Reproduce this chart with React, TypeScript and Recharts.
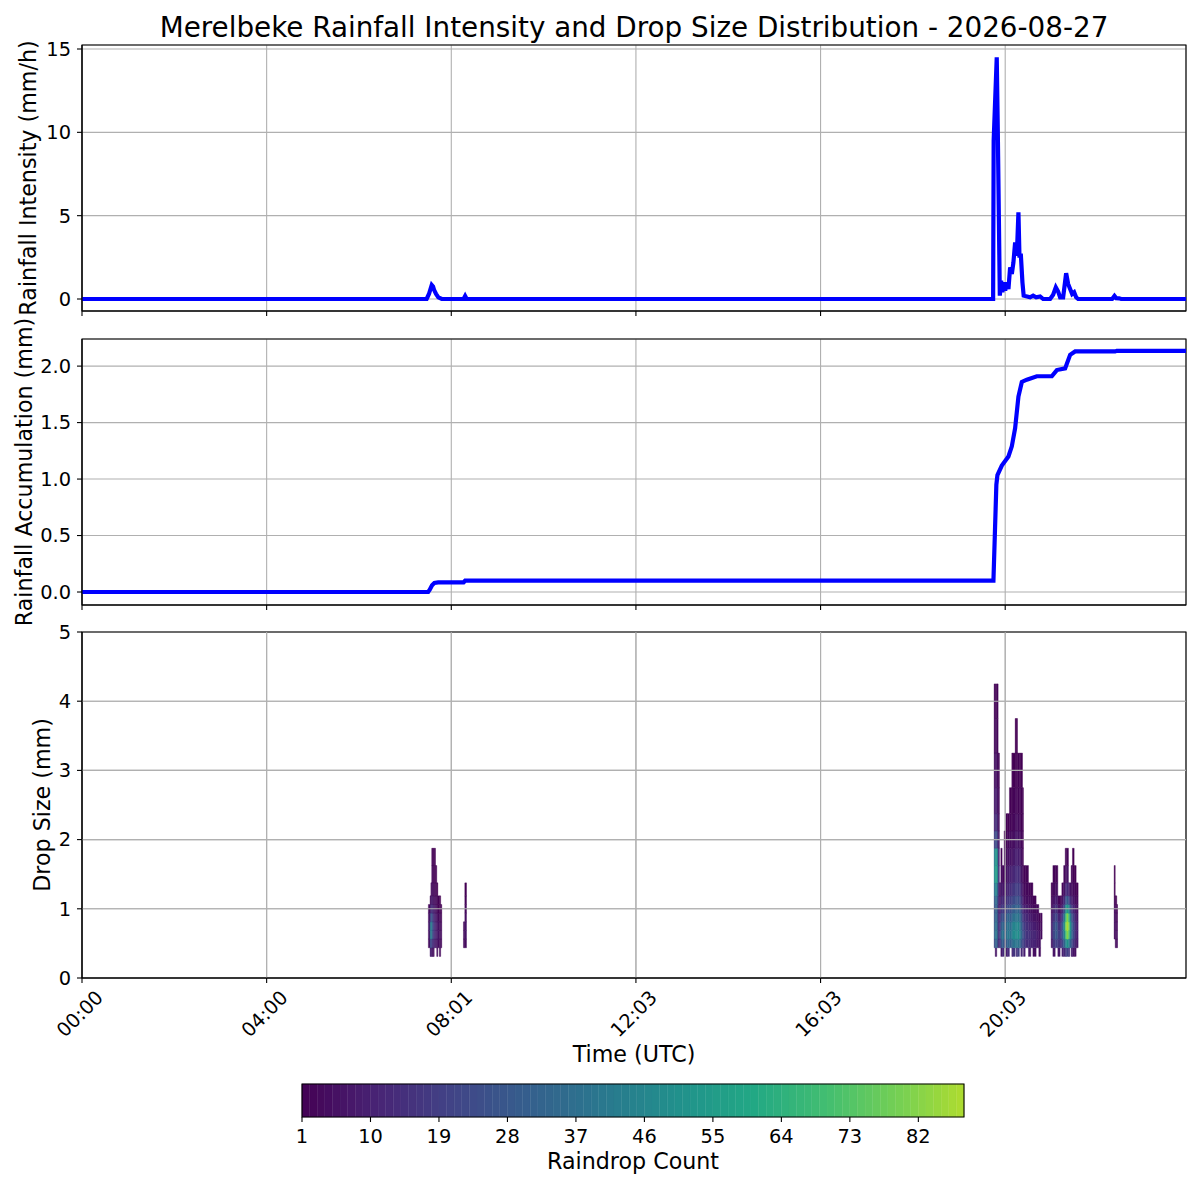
import React from "react";
import {
  LineChart,
  Line,
  ComposedChart,
  XAxis,
  YAxis,
  CartesianGrid,
  ReferenceArea,
  ReferenceLine,
} from "recharts";

const FONT = "DejaVu Sans, Verdana, sans-serif";
const GRID = "#b0b0b0";
const LINE_BLUE = "#0000ff";

// time axis in minutes since 00:00 UTC
const timeTicks = [0, 240, 480, 720, 960, 1200];
const timeTickLabels = ["00:00", "04:00", "08:01", "12:03", "16:03", "20:03"];
const timeEnd = 1435;

// [minute, mm/h]
const intensity: [number, number][] = [
  [0, 0], [448, 0], [451, 0.3], [454.6, 0.84], [456.3, 0.75], [457.6, 0.55],
  [460.2, 0.3], [463.2, 0.1], [467.6, 0], [496, 0], [498, 0.18], [500, 0],
  [1184.3, 0], [1185, 9.5], [1189, 14.5], [1190.4, 10], [1193, 0.2], [1194.7, 1.1],
  [1196.4, 0.4], [1197.7, 1.0], [1200, 0.5], [1202.1, 1.0], [1204.2, 0.6],
  [1206.4, 1.9], [1208.6, 1.5], [1210.7, 2.2], [1212.9, 3.4], [1215.1, 2.6],
  [1217.2, 5.2], [1218.5, 2.6], [1220.4, 2.6], [1222.4, 1.0], [1224, 0.2],
  [1228.5, 0.15], [1232.4, 0.1], [1236.3, 0.2], [1240.2, 0.1], [1245.4, 0.15],
  [1249.3, 0], [1258.4, 0], [1262.3, 0.25], [1265.8, 0.7], [1268.8, 0.45],
  [1271.4, 0.1], [1275.3, 0.1], [1279.2, 1.55], [1281.8, 0.9], [1284.4, 0.6],
  [1287, 0.3], [1289.6, 0.4], [1292.2, 0.1], [1294.8, 0], [1339, 0],
  [1342, 0.18], [1344.2, 0.05], [1348, 0.04], [1350.7, 0], [1435, 0],
];

// [minute, mm]
const accumulation: [number, number][] = [
  [0, 0], [450, 0], [452, 0.02], [455, 0.06], [458, 0.08], [463, 0.085],
  [496, 0.085], [498, 0.1], [1184.7, 0.1], [1186.5, 0.5], [1188.5, 0.95],
  [1189.9, 1.035], [1195.6, 1.12], [1204.2, 1.2], [1208.6, 1.29], [1212.9, 1.45],
  [1217.2, 1.73], [1221.6, 1.86], [1228.1, 1.88], [1241.1, 1.91], [1260.6, 1.91],
  [1267.1, 1.965], [1277.9, 1.98], [1284.4, 2.1], [1290.9, 2.13], [1342.9, 2.13],
  [1345, 2.135], [1435, 2.135],
];

// drop size class edges (mm)
const sizeEdges = [
  0.312, 0.437, 0.562, 0.687, 0.812, 0.937, 1.062, 1.187, 1.375, 1.625, 1.875,
  2.125, 2.375, 2.75, 3.25, 3.75, 4.25,
];

// [start minute, end minute, first size class, counts per class upward]
const dsdColumns: [number, number, number, number[]][] = [
  [450.2, 452.4, 1, [3, 5, 6, 5, 3]],
  [452.4, 453.5, 0, [8, 22, 36, 34, 18, 9, 4]],
  [453.5, 454.6, 0, [10, 26, 46, 44, 26, 13, 6, 3]],
  [454.6, 455.6, 0, [7, 18, 36, 38, 28, 15, 9, 5, 3, 2]],
  [455.6, 456.7, 0, [5, 14, 24, 26, 19, 12, 7, 4, 2, 1]],
  [456.7, 457.8, 0, [4, 12, 18, 19, 14, 9, 5, 3, 2, 1]],
  [457.8, 459.5, 1, [9, 13, 13, 10, 7, 4, 2, 1, 1]],
  [459.5, 461.1, 1, [7, 10, 10, 8, 5, 3, 2, 1]],
  [461.1, 462.5, 0, [4, 7, 8, 7, 5, 3, 2, 1]],
  [462.5, 464.5, 1, [5, 7, 6, 4, 2, 1]],
  [464.5, 466.2, 0, [3, 4, 5, 4, 3, 1, 1]],
  [466.2, 467.6, 1, [3, 4, 3, 2, 1]],
  [495.8, 497.6, 1, [3, 4, 3]],
  [497.6, 499.8, 1, [4, 6, 6, 5, 3, 2, 1]],

  [1185.6, 1187.0, 1, [24, 30, 28, 26, 24, 26, 34, 44, 40, 18, 11, 7, 5, 3, 2]],
  [1187.0, 1189.0, 0, [6, 34, 42, 40, 36, 34, 38, 48, 58, 54, 26, 15, 10, 6, 4, 2]],
  [1189.0, 1190.8, 1, [28, 34, 32, 30, 28, 30, 38, 52, 48, 20, 12, 8, 5, 3, 2]],
  [1190.8, 1192.5, 1, [12, 14, 13, 12, 11, 12, 13, 15, 11, 7, 5, 3, 2]],
  [1192.5, 1194.3, 1, [14, 17, 15, 12, 9, 6, 4]],
  [1194.3, 1196.0, 0, [7, 26, 34, 30, 24, 18, 13, 9, 5, 2]],
  [1196.0, 1198.6, 0, [12, 32, 40, 34, 26, 18, 12, 7, 3]],
  [1198.6, 1200.8, 1, [22, 30, 28, 22, 16, 12, 8, 5, 3, 1]],
  [1200.8, 1203.0, 0, [9, 28, 36, 34, 28, 21, 15, 10, 6, 4, 2, 1]],
  [1203.0, 1205.5, 0, [13, 34, 42, 40, 34, 25, 18, 12, 8, 5, 3, 1]],
  [1205.5, 1208.6, 1, [30, 38, 36, 30, 25, 19, 14, 10, 6, 4, 2, 1]],
  [1208.6, 1210.0, 0, [11, 36, 44, 42, 35, 28, 21, 15, 10, 6, 4, 2, 1, 1]],
  [1210.0, 1213.0, 0, [16, 38, 48, 46, 38, 30, 23, 17, 12, 8, 5, 3, 2, 1]],
  [1213.0, 1214.2, 1, [42, 50, 46, 40, 33, 26, 20, 14, 10, 7, 5, 3, 2, 1]],
  [1214.2, 1216.0, 0, [14, 38, 46, 44, 38, 31, 24, 18, 13, 9, 6, 4, 2, 1, 1]],
  [1216.0, 1218.5, 0, [19, 40, 50, 48, 40, 33, 26, 19, 14, 9, 6, 4, 2, 1]],
  [1218.5, 1220.3, 1, [35, 42, 40, 34, 28, 22, 17, 12, 8, 5, 3, 2, 1]],
  [1220.3, 1222.5, 0, [12, 27, 35, 32, 27, 21, 16, 11, 7, 5, 3, 1, 1, 1]],
  [1222.5, 1223.7, 1, [19, 24, 22, 17, 13, 10, 6, 4, 2, 1, 1, 1]],
  [1223.7, 1226.0, 0, [9, 19, 22, 19, 15, 10, 6, 4, 2]],
  [1226.0, 1230.2, 1, [14, 16, 15, 12, 9, 5, 3, 2]],
  [1230.2, 1233.3, 0, [7, 14, 15, 12, 9, 6, 4, 2]],
  [1233.3, 1236.0, 1, [11, 12, 11, 8, 5, 3, 2]],
  [1236.0, 1240.2, 0, [5, 11, 12, 9, 6, 4, 2]],
  [1240.2, 1243.7, 1, [8, 9, 7, 5, 3]],
  [1243.7, 1246.0, 0, [4, 6, 6, 4, 2]],
  [1246.4, 1248.0, 2, [4, 4, 3]],

  [1259.7, 1262.0, 1, [7, 10, 10, 8, 5, 3, 2]],
  [1262.0, 1265.0, 0, [6, 17, 22, 22, 17, 12, 7, 4, 2]],
  [1265.0, 1268.4, 1, [20, 28, 28, 22, 15, 9, 5, 2]],
  [1268.4, 1271.4, 0, [7, 17, 20, 17, 12, 7, 3]],
  [1271.4, 1273.6, 1, [14, 17, 14, 10, 5, 2]],
  [1273.6, 1276.0, 0, [10, 22, 30, 30, 22, 13, 7, 3]],
  [1276.0, 1278.0, 0, [12, 32, 44, 48, 38, 24, 13, 6, 3]],
  [1278.0, 1280.0, 0, [16, 44, 68, 78, 66, 44, 24, 12, 5, 2]],
  [1280.0, 1282.2, 0, [20, 52, 82, 88, 82, 56, 30, 14, 6, 2]],
  [1282.2, 1284.0, 0, [16, 44, 72, 80, 68, 44, 22, 10]],
  [1284.0, 1285.7, 1, [32, 50, 54, 44, 28, 15, 6]],
  [1285.7, 1287.4, 0, [9, 26, 36, 36, 28, 18, 10, 5, 2]],
  [1287.4, 1289.6, 0, [7, 18, 26, 26, 21, 13, 8, 4, 2, 1]],
  [1289.6, 1292.2, 0, [5, 12, 16, 16, 13, 9, 5, 3, 1]],
  [1292.2, 1294.8, 1, [7, 9, 9, 7, 5, 3, 1]],

  [1341.6, 1343.0, 2, [3, 4, 4, 3, 2, 1, 1]],
  [1343.0, 1345.0, 1, [4, 5, 5, 4, 3, 1]],
  [1345.0, 1346.0, 1, [3, 4, 3, 2, 1]],
];

const countTicks = [1, 10, 19, 28, 37, 46, 55, 64, 73, 82];
const countMin = 1;
const countMax = 88;
const colorNormMax = 100;

const VIRIDIS = [
  "#440154", "#482475", "#414487", "#355f8d", "#2a788e", "#21918c",
  "#22a884", "#44bf70", "#7ad151", "#bddf26", "#fde725",
];

function viridis(t: number) {
  const p = Math.max(0, Math.min(1, t)) * (VIRIDIS.length - 1);
  const i = Math.min(Math.floor(p), VIRIDIS.length - 2);
  const f = p - i;
  const a = VIRIDIS[i];
  const b = VIRIDIS[i + 1];
  const ch = (s: string, k: number) => parseInt(s.slice(1 + k * 2, 3 + k * 2), 16);
  const mix = [0, 1, 2].map((k) => Math.round(ch(a, k) + (ch(b, k) - ch(a, k)) * f));
  return `rgb(${mix.join(",")})`;
}

const countColor = (c: number) => viridis((c - countMin) / (colorNormMax - countMin));

const intensityData = intensity.map(([t, v]) => ({ t, v }));
const accumulationData = accumulation.map(([t, v]) => ({ t, v }));

const dsdCells = dsdColumns.flatMap(([t0, t1, lo, counts]) =>
  counts
    .map((count, k) => ({ t0, t1, d0: sizeEdges[lo + k], d1: sizeEdges[lo + k + 1], count }))
    .filter((c) => c.count > 0)
);

const bands = Array.from({ length: countMax - countMin }, (_, i) => countMin + i);
const bandData = bands.map((c) => ({ c, y: 0.5 }));

const TICK_FS = 19.4;
const LABEL_FS = 22.2;
const tickStyle = { fill: "#000", fontSize: TICK_FS, fontFamily: FONT };

// y-axis titles, placed beside each panel (they are longer than the panels)
const sideLabels = [
  { text: "Rainfall Intensity (mm/h)", x: 28, y: 178 },
  { text: "Rainfall Accumulation (mm)", x: 24, y: 472 },
  { text: "Drop Size (mm)", x: 42, y: 805 },
];

function BottomLabel(props: any) {
  const { viewBox, text, dy } = props;
  const cx = viewBox.x + viewBox.width / 2;
  return (
    <text
      x={cx}
      y={viewBox.y + dy}
      textAnchor="middle"
      dominantBaseline="central"
      fontSize={LABEL_FS}
      fontFamily={FONT}
      fill="#000"
    >
      {text}
    </text>
  );
}

function TimeTick(props: any) {
  const { x, y, payload } = props;
  const label = timeTickLabels[timeTicks.indexOf(payload.value)];
  const cx = x - 2;
  const cy = y + 29;
  return (
    <text
      x={cx}
      y={cy}
      transform={`rotate(-45, ${cx}, ${cy})`}
      textAnchor="middle"
      dominantBaseline="central"
      fontSize={TICK_FS}
      fontFamily={FONT}
      fill="#000"
    >
      {label}
    </text>
  );
}

const frameProps = (y1: number, y2: number) => ({
  x1: 0,
  x2: timeEnd,
  y1,
  y2,
  fill: "none",
  fillOpacity: 0,
  stroke: "#000",
  strokeWidth: 1.1,
  ifOverflow: "visible" as const,
});

const timeAxisProps = {
  type: "number" as const,
  dataKey: "t",
  domain: [0, timeEnd],
  ticks: timeTicks,
  interval: 0 as const,
  tickSize: 5,
  allowDataOverflow: true,
  stroke: "#000",
  strokeWidth: 1.1,
};

const valueAxisProps = {
  type: "number" as const,
  allowDataOverflow: true,
  width: 82,
  tickSize: 5,
  tickMargin: 6,
  tick: tickStyle,
  stroke: "#000",
  strokeWidth: 1.1,
};

export default function App() {
  const p1 = [-0.72, 15.24];
  const p2 = [-0.115, 2.24];
  return (
    <div style={{ position: "absolute", left: 0, top: 0, width: 1200, height: 1200, background: "#fff" }}>
      <div style={{ position: "absolute", left: 0, top: 0 }}>
        <LineChart width={1200} height={325} data={intensityData} margin={{ top: 45, right: 14, bottom: 4, left: 0 }}>
          <CartesianGrid stroke={GRID} strokeWidth={1.1} />
          <XAxis {...timeAxisProps} height={10} tickFormatter={() => ""} tick={tickStyle} />
          <YAxis {...valueAxisProps} domain={p1} ticks={[0, 5, 10, 15]} />
          <Line
            dataKey="v"
            type="linear"
            stroke={LINE_BLUE}
            strokeWidth={4.2}
            dot={false}
            isAnimationActive={false}
          />
          <ReferenceArea {...frameProps(p1[0], p1[1])} />
        </LineChart>
      </div>

      <div style={{ position: "absolute", left: 0, top: 325 }}>
        <LineChart width={1200} height={290} data={accumulationData} margin={{ top: 14, right: 14, bottom: 0, left: 0 }}>
          <CartesianGrid stroke={GRID} strokeWidth={1.1} />
          <XAxis {...timeAxisProps} height={10} tickFormatter={() => ""} tick={tickStyle} />
          <YAxis
            {...valueAxisProps}
            domain={p2}
            ticks={[0, 0.5, 1, 1.5, 2]}
            tickFormatter={(v: number) => v.toFixed(1)}
          />
          <Line
            dataKey="v"
            type="linear"
            stroke={LINE_BLUE}
            strokeWidth={4.2}
            dot={false}
            isAnimationActive={false}
          />
          <ReferenceArea {...frameProps(p2[0], p2[1])} />
        </LineChart>
      </div>

      <div style={{ position: "absolute", left: 0, top: 615 }}>
        <ComposedChart width={1200} height={460} margin={{ top: 17, right: 14, bottom: 0, left: 0 }}>
          <CartesianGrid stroke={GRID} strokeWidth={1.1} />
          <XAxis
            {...timeAxisProps}
            height={97}
            tick={<TimeTick />}
            label={<BottomLabel text="Time (UTC)" dy={76} />}
          />
          <YAxis {...valueAxisProps} domain={[0, 5]} ticks={[0, 1, 2, 3, 4, 5]} />
          {dsdCells.map((c, i) => (
            <ReferenceArea
              key={`cell-${i}`}
              x1={c.t0}
              x2={c.t1}
              y1={c.d0}
              y2={c.d1}
              fill={countColor(c.count)}
              fillOpacity={1}
              stroke={countColor(c.count)}
              strokeWidth={0.4}
              ifOverflow="visible"
            />
          ))}
          {timeTicks.slice(1).map((t) => (
            <ReferenceLine key={`gx-${t}`} x={t} stroke={GRID} strokeWidth={1.1} />
          ))}
          {[1, 2, 3, 4].map((v) => (
            <ReferenceLine key={`gy-${v}`} y={v} stroke={GRID} strokeWidth={1.1} />
          ))}
          <ReferenceArea {...frameProps(0, 5)} />
        </ComposedChart>
      </div>

      <div style={{ position: "absolute", left: 0, top: 1075 }}>
        <ComposedChart width={1200} height={125} data={bandData} margin={{ top: 9, right: 236, bottom: 0, left: 302 }}>
          <XAxis
            type="number"
            dataKey="c"
            domain={[countMin, countMax]}
            ticks={countTicks}
            interval={0}
            allowDataOverflow
            tickSize={5}
            tickMargin={7}
            height={83}
            tick={tickStyle}
            stroke="#000"
            strokeWidth={1.1}
            axisLine={false}
            label={<BottomLabel text="Raindrop Count" dy={44} />}
          />
          <YAxis
            type="number"
            dataKey="y"
            domain={[0, 1]}
            allowDataOverflow
            width={0}
            tick={false}
            tickLine={false}
            axisLine={false}
          />
          {bands.map((b) => (
            <ReferenceArea
              key={`band-${b}`}
              x1={b}
              x2={b + 1}
              y1={0}
              y2={1}
              fill={countColor(b + 0.5)}
              fillOpacity={1}
              stroke={countColor(b + 0.5)}
              strokeWidth={0.4}
              ifOverflow="visible"
            />
          ))}
          <ReferenceArea
            x1={countMin}
            x2={countMax}
            y1={0}
            y2={1}
            fill="none"
            fillOpacity={0}
            stroke="#000"
            strokeWidth={1.1}
            ifOverflow="visible"
          />
        </ComposedChart>
      </div>

      <svg
        width={1200}
        height={1200}
        style={{ position: "absolute", left: 0, top: 0, pointerEvents: "none" }}
      >
        <text x={634} y={36.5} textAnchor="middle" fontSize={27.8} fontFamily={FONT} fill="#000">
          Merelbeke Rainfall Intensity and Drop Size Distribution - 2026-08-27
        </text>
        {sideLabels.map((l) => (
          <text
            key={l.text}
            x={l.x}
            y={l.y}
            transform={`rotate(-90, ${l.x}, ${l.y})`}
            textAnchor="middle"
            dominantBaseline="central"
            fontSize={LABEL_FS}
            fontFamily={FONT}
            fill="#000"
          >
            {l.text}
          </text>
        ))}
      </svg>
    </div>
  );
}
